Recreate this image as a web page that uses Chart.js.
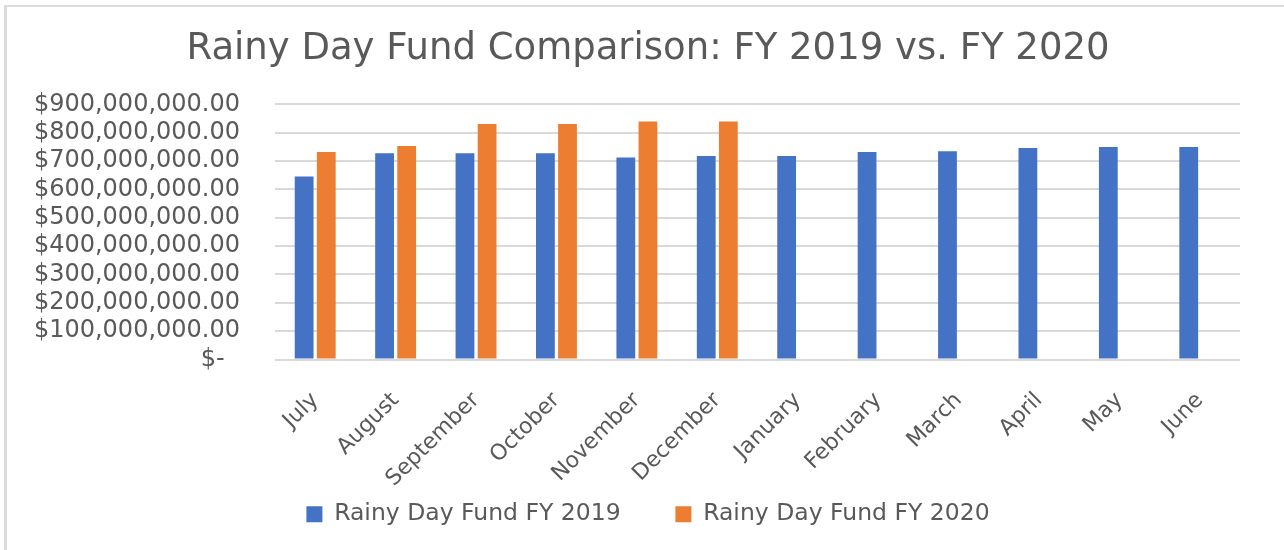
<!DOCTYPE html>
<html>
<head>
<meta charset="utf-8">
<script src="https://cdn.jsdelivr.net/npm/chart.js@4.4.1/dist/chart.umd.min.js"></script>
<style>
  body { margin: 0; background: #fff; }
  #frame {
    position: absolute; left: 4px; top: 5px; width: 1278px; height: 560px;
    border-top: 2px solid #dcdcdc; border-left: 3px solid #dcdcdc; border-right: 1px solid #e6e6e6;
  }
  #wrap { position: absolute; left: 0; top: 0; width: 1284px; height: 550px; }
</style>
</head>
<body>
<div id="frame"></div>
<div id="wrap"><canvas id="myChart"></canvas></div>
<script>
// Rainy Day Fund comparison (dollars)
const months = ['July', 'August', 'September', 'October', 'November', 'December',
                'January', 'February', 'March', 'April', 'May', 'June'];
const fund2019 = [646e6, 728e6, 728e6, 728e6, 713e6, 718e6, 718e6, 732e6, 735e6, 746e6, 750e6, 750e6];
const fund2020 = [732e6, 753e6, 831e6, 831e6, 840e6, 840e6, null, null, null, null, null, null];
const yTicks = [0, 100e6, 200e6, 300e6, 400e6, 500e6, 600e6, 700e6, 800e6, 900e6];

const textColor = '#595959';
const fontFam = '"DejaVu Sans", sans-serif';

function money(v){
    if (v === 0) return '$-  ';
    return '$' + v.toLocaleString('en-US', {minimumFractionDigits: 2, maximumFractionDigits: 2});
}

const ctx = document.getElementById('myChart');

new Chart(ctx, {
    type: 'bar',
    data: {
        labels: months,
        datasets: [{
            label: 'Rainy Day Fund FY 2019',
            data: fund2019,
            backgroundColor: '#4472C4',
            categoryPercentage: 0.55,
            barPercentage: 0.85
        },
        {
            label: 'Rainy Day Fund FY 2020',
            data: fund2020,
            backgroundColor: '#ED7D31',
            categoryPercentage: 0.55,
            barPercentage: 0.85
        }]
    },
    options: {
        responsive: true,
        maintainAspectRatio: false,
        animation: false,
        layout: {
            padding: { left: 12, right: 0, top: 0, bottom: 14 }
        },
        scales: {
            x: {
                afterFit: (axis) => { axis.height = 133; },
                grid: { display: false },
                border: { display: false },
                ticks: {
                    color: textColor,
                    font: { family: fontFam, size: 22 },
                    autoSkip: false,
                    minRotation: 45,
                    maxRotation: 45,
                    padding: 20
                }
            },
            y: {
                min: 0,
                max: 900e6,
                afterBuildTicks: (axis) => { axis.ticks = yTicks.map(v => ({ value: v })); },
                afterFit: (axis) => { axis.width = 263; },
                grid: { color: '#d9d9d9', lineWidth: 2, drawTicks: false },
                border: { display: false },
                ticks: {
                    color: textColor,
                    font: { family: fontFam, size: 24 },
                    autoSkip: false,
                    padding: 35,
                    callback: (val) => money(val)
                }
            },
            // empty right-hand axis, only keeps the plot clear of the right edge
            yRight: {
                position: 'right',
                afterFit: (axis) => { axis.width = 44; },
                grid: { display: false },
                border: { display: false },
                ticks: { display: false }
            }
        },
        plugins: {
            title: {
                display: true,
                text: 'Rainy Day Fund Comparison: FY 2019 vs. FY 2020',
                color: textColor,
                font: { family: fontFam, size: 37, weight: 'normal' },
                padding: { top: 27, bottom: 33 }
            },
            legend: {
                position: 'bottom',
                labels: {
                    color: textColor,
                    font: { family: fontFam, size: 23.5 },
                    boxWidth: 16,
                    boxHeight: 16,
                    padding: 10,
                    generateLabels: (chart) => {
                        const items = Chart.defaults.plugins.legend.labels.generateLabels(chart);
                        items[0].text = items[0].text + '      ';
                        return items;
                    }
                }
            },
            tooltip: { enabled: false }
        }
    }
});
</script>
</body>
</html>
